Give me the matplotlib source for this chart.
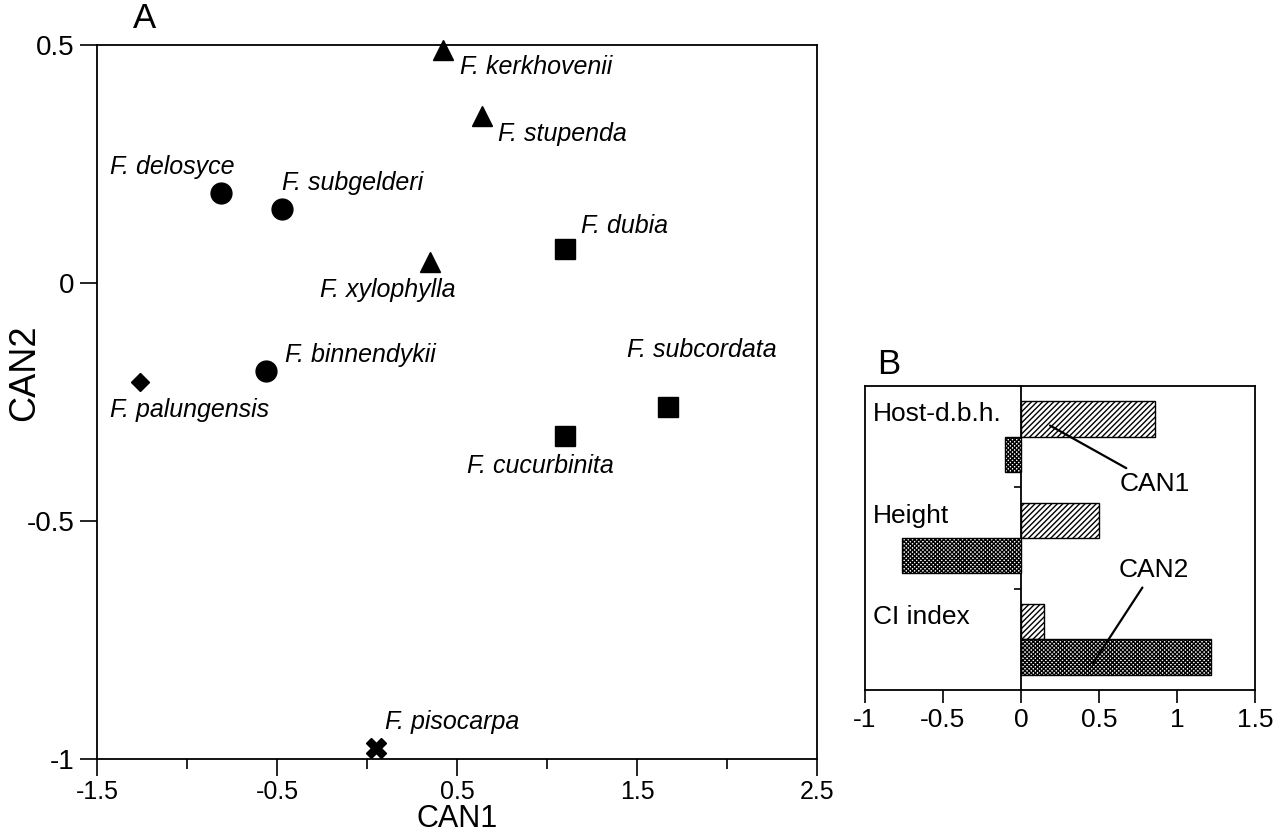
import numpy as np
import matplotlib
matplotlib.use("Agg")
import matplotlib.pyplot as plt
import matplotlib.transforms as mtransforms

plt.rcParams['font.family'] = ['Liberation Sans', 'DejaVu Sans']
plt.rcParams['hatch.linewidth'] = 1.0

# panel A: canonical scores per species
species = ['F. kerkhovenii', 'F. stupenda', 'F. delosyce', 'F. subgelderi',
           'F. xylophylla', 'F. dubia', 'F. binnendykii', 'F. palungensis',
           'F. subcordata', 'F. cucurbinita', 'F. pisocarpa']
can1 = [0.42, 0.64, -0.81, -0.47, 0.35, 1.10, -0.56, -1.26, 1.67, 1.10, 0.05]
can2 = [0.49, 0.35, 0.19, 0.155, 0.044, 0.071, -0.185, -0.208, -0.26, -0.321, -0.977]
group = ['tri', 'tri', 'circ', 'circ', 'tri', 'sq', 'circ', 'dia', 'sq', 'sq', 'cross']
# label offsets in pixels (dx, dy)
label_off = [(17, -17), (16, -18), (-111, 26), (0, 26), (-110, -28), (16, 23),
             (19, 16), (-30, -28), (-41, 57), (-98, -30), (9, 26)]

# panel B: loadings
variables = ['Host-d.b.h.', 'Height', 'CI index']
can1_load = [0.86, 0.50, 0.15]
can2_load = [-0.10, -0.76, 1.22]

marker_style = {'circ': ('o', 15), 'tri': ('^', 14), 'sq': ('s', 14),
                'dia': ('D', 9.5), 'cross': ('X', 14)}

fig = plt.figure(figsize=(12.78, 8.39), dpi=100)

# ---------------- panel A
ax = fig.add_axes([0.0759, 0.0954, 0.5634, 0.851])
for x, y, g, name, (dx, dy) in zip(can1, can2, group, species, label_off):
    m, ms = marker_style[g]
    ax.plot(x, y, marker=m, markersize=ms, color='black', linestyle='none',
            clip_on=False, zorder=3)
    ax.annotate(name, (x, y), xytext=(dx, dy), textcoords='offset pixels',
                ha='left', va='center', fontsize=18, style='italic')

ax.set_xlim(-1.5, 2.5)
ax.set_ylim(-1, 0.5)
ax.set_xticks([-1.5, -0.5, 0.5, 1.5, 2.5])
ax.set_xticklabels(['-1.5', '-0.5', '0.5', '1.5', '2.5'])
ax.set_xticks([-1, 0, 1, 2], minor=True)
ax.set_yticks([-1, -0.5, 0, 0.5])
ax.set_yticklabels(['-1', '-0.5', '0', '0.5'])
ax.tick_params(which='major', direction='out', length=12, width=1.2,
               top=False, right=False)
ax.tick_params(axis='x', which='major', labelsize=18, pad=3)
ax.tick_params(axis='y', which='major', labelsize=20, pad=4)
ax.tick_params(which='minor', direction='out', length=7, width=1.2)
for s in ax.spines.values():
    s.set_linewidth(1.3)
ax.set_xlabel('CAN1', fontsize=22)
ax.xaxis.set_label_coords(0.5, -0.063)
ax.set_ylabel('CAN2', fontsize=26)
ax.yaxis.set_label_coords(-0.076, 0.541)
fig.text(0.104, 0.9785, 'A', fontsize=25, ha='left', va='center')

# ---------------- panel B
bx = fig.add_axes([0.6768, 0.1776, 0.3052, 0.3623])
ypos = np.arange(len(variables))[::-1] + 0.5
h = 0.35
bx.barh(ypos + h / 2, can1_load, height=h, color='white', edgecolor='black',
        hatch='//////', linewidth=1.0, zorder=2)
bx.barh(ypos - h / 2, can2_load, height=h, color='white', edgecolor='black',
        hatch='xxxxxxxx', linewidth=1.0, zorder=2)
bx.set_xlim(-1, 1.5)
bx.set_ylim(0, 3)
bx.set_xticks([-1, -0.5, 0, 0.5, 1, 1.5])
bx.set_xticklabels(['-1', '-0.5', '0', '0.5', '1', '1.5'])
bx.set_yticks([])
bx.tick_params(axis='x', direction='out', length=9, width=1.2, labelsize=19, pad=4)
for s in bx.spines.values():
    s.set_linewidth(1.3)

# zero line with its own small ticks
zero = bx.secondary_yaxis(0.4)
zero.set_yticks([1, 2])
zero.set_yticklabels([])
zero.tick_params(direction='out', length=5, width=1.2)
zero.spines['left'].set_linewidth(1.3)

trans = mtransforms.blended_transform_factory(bx.transAxes, bx.transData)
for y, v in zip(ypos, variables):
    bx.text(0.02, y + 0.22, v, transform=trans, fontsize=19, ha='left', va='center')

bx.annotate('CAN1', xy=(0.186, 2.61), xytext=(0.86, 2.03), fontsize=19,
            ha='center', va='center',
            arrowprops=dict(arrowstyle='-', lw=1.6, color='black', shrinkA=2, shrinkB=0))
bx.annotate('CAN2', xy=(0.46, 0.26), xytext=(0.85, 1.18), fontsize=19,
            ha='center', va='center',
            arrowprops=dict(arrowstyle='-', lw=1.6, color='black', shrinkA=2, shrinkB=0))
fig.text(0.686, 0.565, 'B', fontsize=25, ha='left', va='center')

fig.savefig('out.png', dpi=100)
